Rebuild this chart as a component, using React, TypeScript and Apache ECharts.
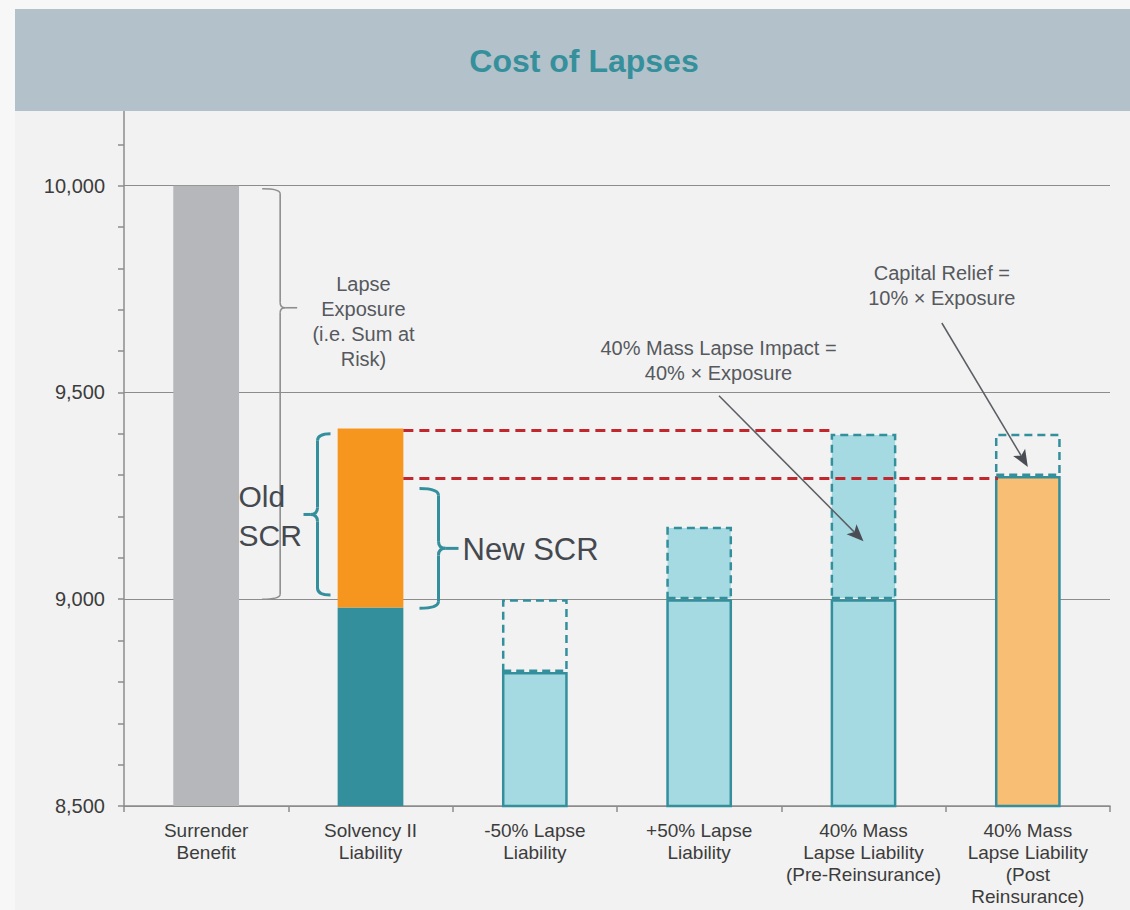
import React, { useEffect, useRef } from "react";
import * as echarts from "echarts";

// ---------- data ----------
const CATEGORIES = [
  "Surrender\nBenefit",
  "Solvency II\nLiability",
  "-50% Lapse\nLiability",
  "+50% Lapse\nLiability",
  "40% Mass\nLapse Liability\n(Pre-Reinsurance)",
  "40% Mass\nLapse Liability\n(Post\nReinsurance)",
];
// solid part of each bar (top value)
const BASE_VALUES = [10000, 8980, 8824, 9000, 9000, 9298];
// top of the stacked / dashed part (null = none)
const TOP_VALUES: (number | null)[] = [null, 9413, 9000, 9175, 9400, 9400];

const Y_MIN = 8500;
const Y_MAX = 10200;
const Y_INTERVAL = 500;

// red dashed reference lines
const RED_LINE_VALUES = [9408, 9292];
// bracket ranges
const EXPOSURE_RANGE = [9000, 10000];
const OLD_SCR_RANGE = [9010, 9400];
const NEW_SCR_RANGE = [8978, 9268];
// arrow targets
const MASS_ARROW = { from: 9492, to: 9140 };
const RELIEF_ARROW = { from: 9668, to: 9320 };

const FONT = '"Liberation Sans", Arial, Helvetica, sans-serif';
const TEAL = "#348f9d";
const LIGHT_BLUE = "#a6dae3";
const GREY_TEXT = "#56595e";

function baseStyle(i: number) {
  if (i === 0) return { color: "#b6b7bb", borderWidth: 0 };
  if (i === 1) return { color: TEAL, borderWidth: 0 };
  if (i === 5) return { color: "#f8be73", borderColor: TEAL, borderWidth: 2.5 };
  return { color: LIGHT_BLUE, borderColor: TEAL, borderWidth: 2.5 };
}
function topStyle(i: number) {
  if (i === 1) return { color: "#f6961f", borderWidth: 0 };
  const filled = i === 3 || i === 4;
  return {
    color: filled ? LIGHT_BLUE : "rgba(0,0,0,0)",
    borderColor: TEAL,
    borderWidth: 2.5,
    borderType: [8, 5],
  };
}

function renderAnnotations(_params: any, api: any) {
  const band = api.size([1, 0])[0];
  const half = band * 0.2;
  const cx = (i: number) => api.coord([i, Y_MIN])[0];
  const py = (v: number) => api.coord([0, v])[1];
  const kids: any[] = [];

  const line = (x1: number, y1: number, x2: number, y2: number, style: any) =>
    kids.push({ type: "line", shape: { x1, y1, x2, y2 }, style: { fill: "none", ...style } });
  const curve = (x1: number, y1: number, cpx: number, cpy: number, x2: number, y2: number, style: any) =>
    kids.push({
      type: "bezierCurve",
      shape: { x1, y1, x2, y2, cpx1: cpx, cpy1: cpy },
      style: { fill: "none", ...style },
    });
  const brace = (
    xOuter: number, xSpine: number, xTip: number,
    yTop: number, yBot: number, yTip: number, r: number, style: any
  ) => {
    const dir = xTip > xSpine ? 1 : -1;
    curve(xOuter, yTop, xSpine, yTop, xSpine, yTop + r, style);
    line(xSpine, yTop + r, xSpine, yTip - r, style);
    curve(xSpine, yTip - r, xSpine, yTip, xSpine + dir * r, yTip, style);
    line(xSpine + dir * r, yTip, xTip, yTip, style);
    curve(xSpine + dir * r, yTip, xSpine, yTip, xSpine, yTip + r, style);
    line(xSpine, yTip + r, xSpine, yBot - r, style);
    curve(xSpine, yBot - r, xSpine, yBot, xOuter, yBot, style);
  };
  const arrow = (x1: number, y1: number, x2: number, y2: number) => {
    const dx = x2 - x1, dy = y2 - y1;
    const len = Math.hypot(dx, dy);
    const ux = dx / len, uy = dy / len;
    const hl = 17, hw = 7;
    const bx = x2 - ux * hl, by = y2 - uy * hl;
    line(x1, y1, bx + ux * 4, by + uy * 4, { stroke: "#5b5f64", lineWidth: 1.5 });
    kids.push({
      type: "polygon",
      shape: {
        points: [
          [x2, y2],
          [bx - uy * hw, by + ux * hw],
          [bx + ux * 4, by + uy * 4],
          [bx + uy * hw, by - ux * hw],
        ],
      },
      style: { fill: "#4a4e54", stroke: "none" },
    });
  };
  const text = (x: number, y: number, t: string, opts: any) =>
    kids.push({
      type: "text",
      x,
      y,
      style: { text: t, fontFamily: FONT, ...opts },
    });

  // red dashed lines
  const red = { stroke: "#c1272d", lineWidth: 3, lineDash: [10, 6] };
  line(cx(1) + half, py(RED_LINE_VALUES[0]), cx(4) - half + 2, py(RED_LINE_VALUES[0]), red);
  line(cx(1) + half, py(RED_LINE_VALUES[1]), cx(5) - half + 3, py(RED_LINE_VALUES[1]), red);

  // exposure brace (grey)
  {
    const yT = py(EXPOSURE_RANGE[1]) + 3;
    const yB = py(EXPOSURE_RANGE[0]);
    brace(cx(0) + 56, cx(0) + 74, cx(0) + 91, yT, yB, yT + (yB - yT) * 0.29, 5, {
      stroke: "#8e8e8e",
      lineWidth: 1.6,
    });
    text(cx(1) - 7, yT + 83, "Lapse\nExposure\n(i.e. Sum at\nRisk)", {
      fontSize: 20,
      lineHeight: 25,
      fill: GREY_TEXT,
      align: "center",
      verticalAlign: "top",
    });
  }
  // old SCR brace
  {
    const yT = py(OLD_SCR_RANGE[1]);
    const yB = py(OLD_SCR_RANGE[0]);
    brace(cx(1) - 40, cx(1) - 53, cx(1) - 67, yT, yB, (yT + yB) / 2, 7, {
      stroke: TEAL,
      lineWidth: 3,
    });
    text(cx(1) - 132, yT + 43, "Old\nSCR", {
      fontSize: 30,
      lineHeight: 39,
      fill: "#45494f",
      align: "left",
      verticalAlign: "top",
    });
  }
  // new SCR brace
  {
    const yT = py(NEW_SCR_RANGE[1]);
    const yB = py(NEW_SCR_RANGE[0]);
    const yTip = (yT + yB) / 2;
    brace(cx(1) + 49, cx(1) + 68, cx(1) + 88, yT, yB, yTip, 7, {
      stroke: TEAL,
      lineWidth: 3,
    });
    text(cx(1) + 92, yTip + 1, "New SCR", {
      fontSize: 31,
      fill: "#45494f",
      align: "left",
      verticalAlign: "middle",
    });
  }
  // mass lapse annotation
  text(cx(4) - 145, py(Y_MIN + 2 * Y_INTERVAL) - 57, "40% Mass Lapse Impact =\n40% × Exposure", {
    fontSize: 20,
    lineHeight: 25,
    fill: GREY_TEXT,
    align: "center",
    verticalAlign: "top",
  });
  arrow(cx(4) - 144.5, py(MASS_ARROW.from), cx(4), py(MASS_ARROW.to));

  // capital relief annotation
  text(cx(5) - 86, py(EXPOSURE_RANGE[1]) + 75, "Capital Relief =\n10% × Exposure", {
    fontSize: 20,
    lineHeight: 25,
    fill: GREY_TEXT,
    align: "center",
    verticalAlign: "top",
  });
  arrow(cx(5) - 86, py(RELIEF_ARROW.from), cx(5), py(RELIEF_ARROW.to));

  return { type: "group", children: kids };
}

export default function App() {
  const ref = useRef<HTMLDivElement>(null);
  useEffect(() => {
    if (!ref.current) return;
    const chart = echarts.init(ref.current, null, { renderer: "svg" });
    const axisGrey = "#8c8c8c";
    const option: any = {
      animation: false,
      backgroundColor: "#f7f7f7",
      textStyle: { fontFamily: FONT },
      graphic: [
        {
          type: "rect",
          z: -10,
          shape: { x: 15, y: 111, width: 1115, height: 799 },
          style: { fill: "#f2f2f2" },
        },
        {
          type: "rect",
          z: 50,
          shape: { x: 15, y: 9, width: 1115, height: 102 },
          style: { fill: "#b3c1ca" },
        },
        {
          type: "text",
          z: 51,
          x: 584,
          y: 61,
          style: {
            text: "Cost of Lapses",
            fill: "#35909c",
            fontFamily: FONT,
            fontSize: 32,
            fontWeight: "bold",
            align: "center",
            verticalAlign: "middle",
          },
        },
      ],
      grid: { left: 124, right: 20, top: 103, bottom: 104, containLabel: false },
      xAxis: {
        type: "category",
        data: CATEGORIES,
        axisLine: { show: true, lineStyle: { color: axisGrey, width: 1.5 } },
        axisTick: { show: true, length: 6, interval: 0, lineStyle: { color: axisGrey, width: 1.5 } },
        axisLabel: {
          interval: 0,
          fontSize: 19,
          lineHeight: 22,
          margin: 13,
          color: "#3c3c3c",
          fontFamily: FONT,
        },
      },
      yAxis: {
        type: "value",
        min: Y_MIN,
        max: Y_MAX,
        interval: Y_INTERVAL,
        axisLine: { show: true, lineStyle: { color: axisGrey, width: 1.5 } },
        axisTick: { show: true, length: 6, lineStyle: { color: axisGrey, width: 1.5 } },
        minorTick: { show: true, splitNumber: 5, length: 6, lineStyle: { color: axisGrey, width: 1.5 } },
        splitLine: { show: true, lineStyle: { color: axisGrey, width: 1.2 } },
        axisLabel: {
          fontSize: 20,
          margin: 19,
          color: "#3c3c3c",
          fontFamily: FONT,
          formatter: (v: number) => (v > 10000 ? "" : v.toLocaleString("en-US")),
        },
      },
      series: [
        {
          name: "Base",
          type: "bar",
          stack: "total",
          barWidth: "40%",
          data: BASE_VALUES.map((v, i) => ({ value: v, itemStyle: baseStyle(i) })),
        },
        {
          name: "Top",
          type: "bar",
          stack: "total",
          barWidth: "40%",
          data: TOP_VALUES.map((t, i) =>
            t == null ? "-" : { value: t - BASE_VALUES[i], itemStyle: topStyle(i) }
          ),
        },
        {
          name: "Annotations",
          type: "custom",
          z: 5,
          silent: true,
          data: [[0, Y_MIN]],
          renderItem: renderAnnotations,
        },
      ],
    };
    chart.setOption(option);
    return () => chart.dispose();
  }, []);
  return (
    <div
      ref={ref}
      style={{ position: "fixed", left: 0, top: 0, width: 1130, height: 910 }}
    />
  );
}
